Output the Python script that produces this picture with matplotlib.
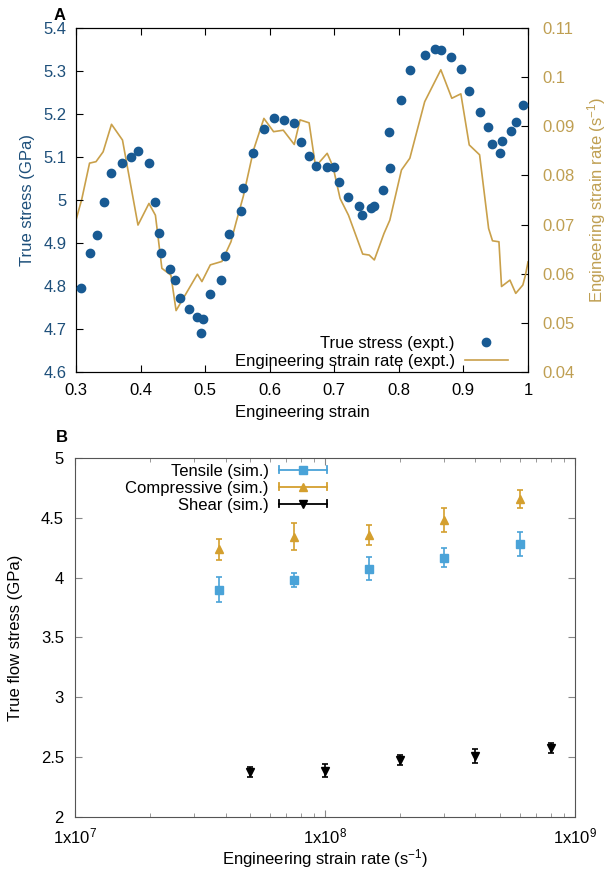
import matplotlib
matplotlib.use("Agg")
import matplotlib.pyplot as plt
import numpy as np
from matplotlib.lines import Line2D
from matplotlib.legend_handler import HandlerBase
from matplotlib.ticker import FuncFormatter, MultipleLocator, LogLocator, NullFormatter

plt.rcParams['font.family'] = ['Liberation Sans', 'DejaVu Sans']
plt.rcParams['mathtext.fontset'] = 'custom'
plt.rcParams['mathtext.rm'] = 'Liberation Sans'
plt.rcParams['mathtext.it'] = 'Liberation Sans'
plt.rcParams['font.size'] = 12

# ---- panel A data
stress_strain = [0.308, 0.321, 0.332, 0.343, 0.354, 0.372, 0.385, 0.396, 0.413, 0.423,
                 0.429, 0.432, 0.446, 0.454, 0.461, 0.475, 0.487, 0.494, 0.496, 0.508,
                 0.524, 0.531, 0.537, 0.556, 0.559, 0.574, 0.591, 0.607, 0.622, 0.637,
                 0.648, 0.661, 0.672, 0.688, 0.700, 0.708, 0.722, 0.738, 0.743, 0.757,
                 0.762, 0.776, 0.786, 0.785, 0.804, 0.817, 0.840, 0.856, 0.866, 0.881,
                 0.897, 0.909, 0.925, 0.938, 0.944, 0.956, 0.959, 0.974, 0.982, 0.993]
true_stress = [4.795, 4.876, 4.919, 4.995, 5.062, 5.086, 5.100, 5.115, 5.086, 4.995,
               4.923, 4.877, 4.840, 4.813, 4.773, 4.746, 4.727, 4.690, 4.723, 4.781,
               4.813, 4.870, 4.921, 4.975, 5.028, 5.109, 5.164, 5.190, 5.185, 5.180,
               5.136, 5.102, 5.078, 5.077, 5.077, 5.041, 5.008, 4.987, 4.964, 4.981,
               4.987, 5.023, 5.074, 5.157, 5.233, 5.302, 5.337, 5.350, 5.348, 5.333,
               5.305, 5.254, 5.205, 5.169, 5.131, 5.109, 5.137, 5.160, 5.181, 5.222]

rate_strain = [0.300, 0.309, 0.321, 0.331, 0.342, 0.355, 0.372, 0.396, 0.413, 0.423,
               0.433, 0.447, 0.455, 0.488, 0.495, 0.508, 0.526, 0.540, 0.548, 0.559,
               0.575, 0.591, 0.606, 0.621, 0.638, 0.647, 0.661, 0.671, 0.689, 0.698,
               0.709, 0.722, 0.744, 0.754, 0.762, 0.777, 0.786, 0.804, 0.817, 0.840,
               0.865, 0.882, 0.896, 0.909, 0.925, 0.939, 0.945, 0.955, 0.959, 0.972,
               0.981, 0.992, 0.996, 1.000]
strain_rate = [0.0709, 0.0752, 0.0825, 0.0828, 0.0848, 0.0904, 0.0872, 0.0699, 0.0743, 0.0719,
               0.0611, 0.0597, 0.0525, 0.0599, 0.0584, 0.0618, 0.0625, 0.0665, 0.0705, 0.0757,
               0.0852, 0.0916, 0.0889, 0.0892, 0.0863, 0.0913, 0.0907, 0.0818, 0.0845, 0.0818,
               0.0753, 0.0719, 0.0640, 0.0638, 0.0628, 0.0682, 0.0709, 0.0811, 0.0835, 0.0950,
               0.1015, 0.0957, 0.0966, 0.0862, 0.0842, 0.0692, 0.0667, 0.0665, 0.0574, 0.0587,
               0.0560, 0.0577, 0.0597, 0.0624]

# ---- panel B data
tc_rate = [3.75e7, 7.5e7, 1.5e8, 3e8, 6e8]
tensile = [3.90, 3.98, 4.075, 4.165, 4.285]
tensile_err = [0.105, 0.055, 0.095, 0.08, 0.10]
compressive = [4.237, 4.343, 4.354, 4.482, 4.655]
compressive_err = [0.09, 0.115, 0.085, 0.10, 0.075]
shear_rate = [5e7, 1e8, 2e8, 4e8, 8e8]
shear = [2.374, 2.388, 2.477, 2.51, 2.577]
shear_err = [0.04, 0.055, 0.045, 0.057, 0.045]

c_stress = '#185a93'
c_stress_txt = '#1d4f7a'
c_rate = '#c9a04a'
c_rate_txt = '#bf9f52'
c_tens = '#4aa3d8'
c_comp = '#d49f2e'


class GnuErrHandler(HandlerBase):
    # gnuplot style key sample: horizontal bar with end caps and marker in the middle
    def create_artists(self, legend, orig_handle, xdescent, ydescent, width, height,
                       fontsize, trans):
        y = height / 2 - ydescent
        x0, x1 = -xdescent, width - xdescent
        c = orig_handle.get_color()
        h = height * 0.3
        arts = [Line2D([x0, x1], [y, y], color=c, lw=1.3),
                Line2D([x0, x0], [y - h, y + h], color=c, lw=1.3),
                Line2D([x1, x1], [y - h, y + h], color=c, lw=1.3),
                Line2D([(x0 + x1) / 2], [y], color=c, marker=orig_handle.get_marker(),
                       ms=orig_handle.get_markersize(), ls='none')]
        for a in arts:
            a.set_transform(trans)
        return arts


fig = plt.figure(figsize=(6.06, 8.69), dpi=100)

# ---------------- panel A
ax = fig.add_axes([0.1254, 0.5719, 0.7459, 0.3959])
ax2 = ax.twinx()
p1, = ax.plot(stress_strain, true_stress, 'o', color=c_stress, ms=6, mec=c_stress,
              label='True stress (expt.)', zorder=3)
p2, = ax2.plot(rate_strain, strain_rate, '-', color=c_rate, lw=1.2,
               label='Engineering strain rate (expt.)')
ax.set_zorder(ax2.get_zorder() + 1)
ax.patch.set_visible(False)

ax.set_xlim(0.3, 1.0)
ax.set_ylim(4.6, 5.4)
ax2.set_ylim(0.04, 0.11)
ax.xaxis.set_major_locator(MultipleLocator(0.1))
ax.yaxis.set_major_locator(MultipleLocator(0.1))
ax2.yaxis.set_major_locator(MultipleLocator(0.01))
fmt = FuncFormatter(lambda v, p: '%g' % round(v, 4))
ax.xaxis.set_major_formatter(fmt)
ax.yaxis.set_major_formatter(fmt)
ax2.yaxis.set_major_formatter(fmt)
ax.tick_params(axis='x', direction='in', top=True, length=5, pad=8)
ax.tick_params(axis='y', direction='in', length=5, labelcolor=c_stress_txt, pad=7)
ax2.tick_params(axis='y', direction='in', length=5, labelcolor=c_rate_txt, pad=10.5)
ax.set_xlabel('Engineering strain', labelpad=5)
ax.set_ylabel('True stress (GPa)', color=c_stress_txt, labelpad=6)
ax2.set_ylabel('Engineering strain rate (s$^{-1}$)', color=c_rate_txt, labelpad=7)

ax.legend([p1, p2], ['True stress (expt.)', 'Engineering strain rate (expt.)'],
          loc='lower right', bbox_to_anchor=(0.978, -0.019), frameon=False,
          markerfirst=False, handlelength=2.6, handletextpad=0.6, labelspacing=0.15,
          borderaxespad=0.2)

# ---------------- panel B
bx = fig.add_axes([0.1238, 0.0598, 0.8250, 0.4132])
e1 = bx.errorbar(tc_rate, tensile, yerr=tensile_err, fmt='s', color=c_tens, ms=6,
                 capsize=2.5, elinewidth=1.2, capthick=1.2)
e2 = bx.errorbar(tc_rate, compressive, yerr=compressive_err, fmt='^', color=c_comp, ms=6,
                 capsize=2.5, elinewidth=1.2, capthick=1.2)
e3 = bx.errorbar(shear_rate, shear, yerr=shear_err, fmt='v', color='black', ms=6,
                 capsize=2.5, elinewidth=1.2, capthick=1.2)
bx.set_xscale('log')
bx.set_xlim(1e7, 1e9)
bx.set_ylim(2, 5)
bx.yaxis.set_major_locator(MultipleLocator(0.5))
bx.yaxis.set_major_formatter(fmt)
bx.xaxis.set_major_locator(LogLocator(base=10, numticks=5))
bx.xaxis.set_minor_locator(LogLocator(base=10, subs=np.arange(2, 10), numticks=20))
bx.xaxis.set_minor_formatter(NullFormatter())
bx.xaxis.set_major_formatter(FuncFormatter(lambda v, p: '1x10$^{%d}$' % round(np.log10(v))))
bx.tick_params(which='both', direction='in', top=True, right=True, color='#888888')
bx.tick_params(axis='x', pad=7)
bx.tick_params(axis='y', pad=8)
bx.tick_params(which='major', length=5)
bx.tick_params(which='minor', length=3)
for s in bx.spines.values():
    s.set_color('#555555')
bx.set_xlabel('Engineering strain rate (s$^{-1}$)', labelpad=0)
bx.set_ylabel('True flow stress (GPa)', labelpad=13)

h1 = e1.lines[0]
h2 = e2.lines[0]
h3 = e3.lines[0]
bx.legend([h1, h2, h3], ['Tensile (sim.)', 'Compressive (sim.)', 'Shear (sim.)'],
          handler_map={h1: GnuErrHandler(), h2: GnuErrHandler(), h3: GnuErrHandler()},
          loc='upper right', bbox_to_anchor=(0.518, 1.003), frameon=False,
          markerfirst=False, handlelength=2.9, handletextpad=0.6, labelspacing=0.12,
          borderaxespad=0.0)

fig.text(0.099, 0.982, 'A', fontweight='bold', fontsize=12, ha='center', va='center')
fig.text(0.102, 0.497, 'B', fontweight='bold', fontsize=12, ha='center', va='center')

fig.savefig('out.png', dpi=100)
